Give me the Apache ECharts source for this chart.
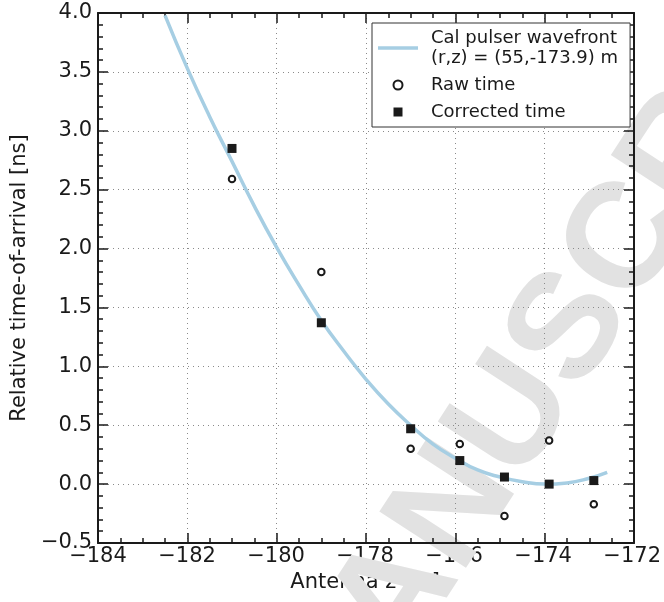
<!DOCTYPE html>
<html>
<head>
<meta charset="utf-8">
<script src="https://cdn.jsdelivr.net/npm/echarts@6/dist/echarts.min.js"></script>
<style>html,body{margin:0;padding:0;background:#fff}#c{width:664px;height:602px}</style>
</head>
<body>
<div id="c"></div>
<script>
// Antenna depths [m]
var antennaZ = [-181.0, -179.0, -177.0, -175.9, -174.9, -173.9, -172.9];
// Raw time [ns]
var rawTime = [2.59, 1.80, 0.30, 0.34, -0.27, 0.37, -0.17];
// Corrected time [ns]
var correctedTime = [2.85, 1.37, 0.47, 0.20, 0.06, 0.00, 0.03];
// Wavefront curve
var curveZ = [-182.5, -182.0, -181.5, -181.0, -180.5, -180.0, -179.5, -179.0, -178.5, -178.0, -177.5, -177.0, -176.5, -176.0, -175.5, -175.0, -174.5, -174.0, -173.5, -173.0, -172.6];
var curveT = [3.98, 3.53, 3.12, 2.74, 2.36, 2.01, 1.69, 1.39, 1.13, 0.89, 0.68, 0.50, 0.34, 0.22, 0.12, 0.06, 0.02, 0.00, 0.01, 0.05, 0.10];
var xTicks = {min: -184, max: -172, interval: 2};
var yTicks = {min: -0.5, max: 4.0, interval: 0.5};
var legendNames = ['Cal pulser wavefront\n(r,z) = (55,-173.9) m', 'Raw time', 'Corrected time'];
var watermarkText = 'MANUSCRIPT';

function pairs(a, b) { return a.map(function (v, i) { return [v, b[i]]; }); }
function minus(s) { return String(s).replace('-', '\u2212'); }

var font = 'DejaVu Sans';
var axisCol = '#1a1a1a';
var chart = echarts.init(document.getElementById('c'));

function rangeOf(isX) {
  var t = isX ? xTicks : yTicks;
  return {type: 'value', min: t.min, max: t.max, interval: t.interval};
}
// axes carrying only the tick labels and names (drawn beneath the watermark)
function labelAxis(isX) {
  var a = rangeOf(isX);
  a.gridIndex = 0; a.z = 0;
  a.position = isX ? 'bottom' : 'left';
  a.axisLine = {show: false, onZero: false};
  a.axisTick = {show: false};
  a.splitLine = {show: false};
  a.axisLabel = {show: true, fontFamily: font, fontSize: 21, color: '#1a1a1a', margin: isX ? 3 : 6,
    formatter: isX ? function (v) { return minus(v); } : function (v) { return minus(v.toFixed(1)); }};
  a.name = isX ? 'Antenna z [m]' : 'Relative time-of-arrival [ns]';
  a.nameLocation = 'middle';
  a.nameGap = isX ? 29 : 61;
  a.nameTextStyle = {fontFamily: font, fontSize: 21, color: '#1a1a1a'};
  return a;
}
// frame axes: lines, ticks, grid lines
function frameAxis(isX, pos, split) {
  var a = rangeOf(isX);
  a.gridIndex = 1; a.z = 2;
  a.position = pos;
  a.axisLine = {show: true, onZero: false, lineStyle: {color: axisCol, width: 2}};
  a.axisTick = {show: true, inside: true, length: 10, lineStyle: {color: axisCol, width: 1.5}};
  a.minorTick = {show: true, splitNumber: isX ? 4 : 5, length: 5, lineStyle: {color: axisCol, width: 1.5}};
  a.splitLine = {show: split, lineStyle: {color: '#8a8a8a', width: 1, type: [1, 4]}};
  a.axisLabel = {show: false};
  return a;
}
var gridRect = {left: 98, right: 30, top: 13, bottom: 59, containLabel: false};

chart.setOption({
  animation: false,
  backgroundColor: '#fff',
  grid: [Object.assign({}, gridRect), Object.assign({}, gridRect)],
  xAxis: [labelAxis(true), frameAxis(true, 'bottom', true), frameAxis(true, 'top', false)],
  yAxis: [labelAxis(false), frameAxis(false, 'left', true), frameAxis(false, 'right', false)],
  legend: {
    orient: 'vertical', left: 372, top: 23, z: 6,
    padding: [5, 12, 5, 6], itemGap: 7, itemWidth: 40, itemHeight: 9,
    backgroundColor: '#fff', borderColor: '#333', borderWidth: 1,
    textStyle: {fontFamily: font, fontSize: 18, lineHeight: 20, color: '#1a1a1a', padding: [0, 0, 0, 8]},
    data: [
      {name: legendNames[0], icon: 'path://M0,0h40v3.5h-40z', itemStyle: {color: '#a6cee3', borderWidth: 0}},
      {name: legendNames[1], icon: 'circle', itemStyle: {color: '#fff', borderColor: '#1a1a1a', borderWidth: 2}},
      {name: legendNames[2], icon: 'path://M0,0h9v9h-9z', itemStyle: {color: '#1a1a1a', borderWidth: 0}}
    ]
  },
  graphic: [{
    type: 'text', x: 571, y: 330, rotation: 57 * Math.PI / 180, z: 1, silent: true,
    style: {text: watermarkText, fontFamily: 'Liberation Sans', fontWeight: 'bold', fontSize: 150, fill: '#e2e2e2',
      align: 'center', verticalAlign: 'middle'}
  }],
  series: [
    {name: legendNames[0], type: 'line', xAxisIndex: 1, yAxisIndex: 1, data: pairs(curveZ, curveT), symbol: 'none', smooth: true,
      lineStyle: {color: '#a6cee3', width: 3.5}, itemStyle: {color: '#a6cee3'}, z: 3},
    {name: legendNames[1], type: 'scatter', xAxisIndex: 1, yAxisIndex: 1, data: pairs(antennaZ, rawTime), symbol: 'circle', symbolSize: 6.5,
      itemStyle: {color: '#fff', borderColor: '#1a1a1a', borderWidth: 2, opacity: 1}, z: 4},
    {name: legendNames[2], type: 'scatter', xAxisIndex: 1, yAxisIndex: 1, data: pairs(antennaZ, correctedTime), symbol: 'rect', symbolSize: 9,
      itemStyle: {color: '#1a1a1a', opacity: 1}, z: 5}
  ]
});
</script>
</body>
</html>
